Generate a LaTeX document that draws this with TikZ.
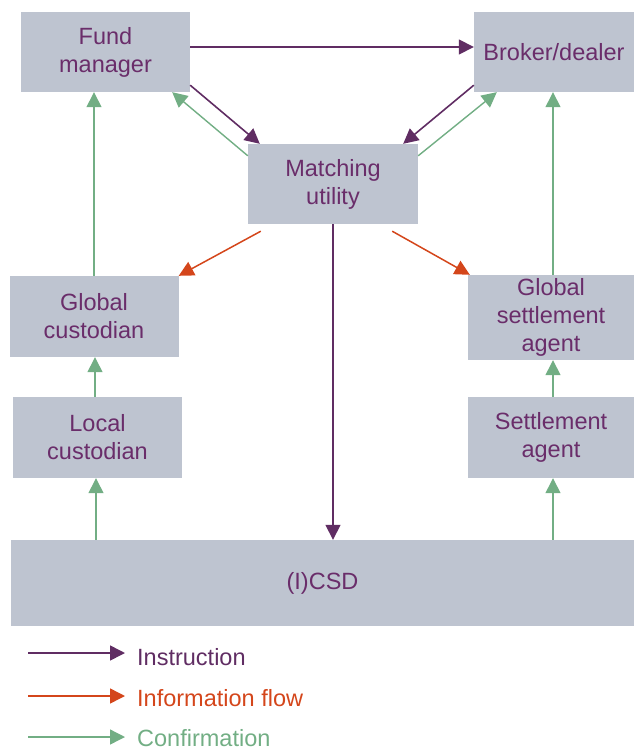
\documentclass[tikz,border=0pt]{standalone}
\usepackage{fontspec}
\setmainfont{Liberation Sans}
\usetikzlibrary{arrows.meta}
\definecolor{boxfill}{HTML}{BEC4D0}
\definecolor{txtpurple}{HTML}{6A2D6A}
\definecolor{instr}{HTML}{602D63}
\definecolor{info}{HTML}{D4461B}
\definecolor{confirm}{HTML}{72AE84}
\begin{document}
\begin{tikzpicture}[x=1pt,y=1pt,
  box/.style={fill=boxfill, draw=none, inner sep=0pt, align=center,
    text=txtpurple, font=\fontsize{23.5}{28}\selectfont},
  tip/.style={-{Triangle[length=15pt,width=15pt]}},
  instrarrow/.style={tip, draw=instr, line width=1.6pt},
  infoarrow/.style={tip, draw=info, line width=1.5pt},
  confarrow/.style={tip, draw=confirm, line width=1.4pt},
  legendtext/.style={anchor=west, inner sep=0pt, font=\fontsize{23.5}{28}\selectfont}]
\useasboundingbox (0,0) rectangle (634,-749);

% boxes
\node[box, minimum width=169pt, minimum height=80pt] (fm) at (105.5,-52) {Fund\\manager};
\node[box, minimum width=160pt, minimum height=80pt] (bd) at (554,-52) {Broker/dealer};
\node[box, minimum width=170pt, minimum height=80pt] (mu) at (333,-184) {Matching\\utility};
\node[box, minimum width=169pt, minimum height=81pt] (gc) at (94,-316.5) {Global\\custodian};
\node[box, minimum width=166pt, minimum height=85pt] (gs) at (551,-317.5) {Global\\settlement\\agent};
\node[box, minimum width=169pt, minimum height=81pt] (lc) at (97.5,-437.5) {Local\\custodian};
\node[box, minimum width=166pt, minimum height=81pt] (sa) at (551,-437.5) {Settlement\\agent};
\node[box, minimum width=623pt, minimum height=86pt] (icsd) at (322.5,-583) {(I)CSD};

% instructions
\draw[instrarrow] ([yshift=5pt]fm.east) -- ([yshift=5pt]fm.east -| bd.west);
\draw[instrarrow] ([yshift=7pt]fm.south east) -- ([xshift=12pt]mu.north west);
\draw[instrarrow] ([yshift=7pt]bd.south west) -- ([xshift=-15pt]mu.north east);
\draw[instrarrow] (mu.south) -- (mu.south |- icsd.north);

% information flow
\draw[infoarrow] ([shift={(13pt,-7pt)}]mu.south west) -- (gc.north east);
\draw[infoarrow] ([shift={(-26pt,-7pt)}]mu.south east) -- ([xshift=2pt]gs.north west);

% confirmations
\draw[confarrow] ([yshift=-12pt]mu.north west) -- ([xshift=-18pt]fm.south east);
\draw[confarrow] ([yshift=-12pt]mu.north east) -- ([xshift=23pt]bd.south west);
\draw[confarrow] (gc.north) -- (gc.north |- fm.south);
\draw[confarrow] ([xshift=-2.5pt]lc.north) -- ([xshift=-2.5pt]lc.north |- gc.south);
\draw[confarrow] ([xshift=-1.5pt]lc.south |- icsd.north) -- ([xshift=-1.5pt]lc.south);
\draw[confarrow] ([xshift=2pt]gs.north) -- ([xshift=2pt]gs.north |- bd.south);
\draw[confarrow] ([xshift=2pt]sa.north) -- ([xshift=2pt]sa.north |- gs.south);
\draw[confarrow] ([xshift=2pt]sa.south |- icsd.north) -- ([xshift=2pt]sa.south);

% legend
\coordinate (l1a) at (28,-653);  \coordinate (l1b) at (125,-653);
\coordinate (l2a) at (28,-696);  \coordinate (l2b) at (125,-696);
\coordinate (l3a) at (28,-737);  \coordinate (l3b) at (125,-737);
\draw[instrarrow] (l1a) -- (l1b);
\draw[infoarrow] (l2a) -- (l2b);
\draw[confarrow] (l3a) -- (l3b);
\node[legendtext, text=instr] (t1) at (137,-657) {Instruction};
\node[legendtext, text=info] (t2) at (137,-698) {Information flow};
\node[legendtext, text=confirm] (t3) at (137,-738) {Confirmation};
\end{tikzpicture}
\end{document}
